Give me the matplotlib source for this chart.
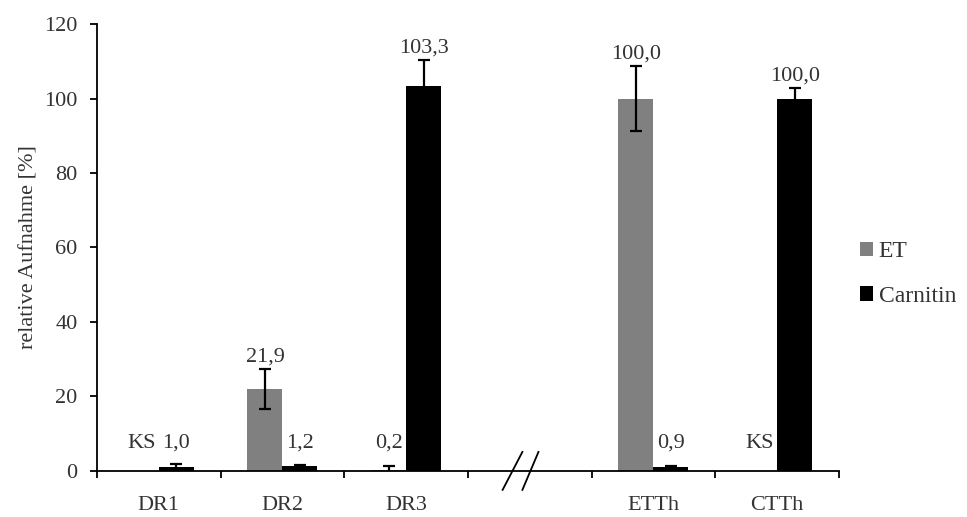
import numpy as np
import matplotlib
matplotlib.use('Agg')
import matplotlib.pyplot as plt
import matplotlib.transforms as mtransforms

plt.rcParams['font.family'] = ['Liberation Serif', 'DejaVu Serif']

# Daten
categories = ['DR1', 'DR2', 'DR3', 'ETTh', 'CTTh']
et_vals = [0.0, 21.9, 0.2, 100.0, 0.0]
et_err = [0.0, 5.4, 1.0, 8.7, 0.0]
et_labels = ['KS', '21,9', '0,2', '100,0', 'KS']
car_vals = [1.0, 1.2, 103.3, 0.9, 100.0]
car_err = [0.8, 0.4, 7.1, 0.35, 2.8]
car_labels = ['1,0', '1,2', '103,3', '0,9', '100,0']
yticks = [0, 20, 40, 60, 80, 100, 120]

txt_color = '#333333'
fs = 16
pos = np.array([0, 1, 2, 4, 5])  # Lücke bei 3 (Achsenbruch)
w = 0.283

fig = plt.figure(figsize=(9.67, 5.17), dpi=100)
ax = fig.add_axes([0.1003, 0.0896, 0.7673, 0.8634])

ek = dict(ecolor='black', elinewidth=1.6, capsize=4.3, capthick=1.6)
has_et = np.array(et_vals) > 0
ax.bar(pos - w / 2, et_vals, w, color='#808080', label='ET', zorder=2)
ax.errorbar((pos - w / 2)[has_et], np.array(et_vals)[has_et],
            yerr=np.array(et_err)[has_et], fmt='none', zorder=3, **ek)
ax.bar(pos + w / 2, car_vals, w, color='black', label='Carnitin', zorder=2)
ax.errorbar(pos + w / 2, car_vals, yerr=car_err, fmt='none', zorder=3, **ek)

# Beschriftungen
for x, v, e, lab in zip(pos - w / 2, et_vals, et_err, et_labels):
    ax.annotate(lab, (x, max(v + e, 4)), xytext=(0, 2), textcoords='offset points',
                ha='center', va='bottom', fontsize=fs, color=txt_color)
for x, v, e, lab in zip(pos + w / 2, car_vals, car_err, car_labels):
    ax.annotate(lab, (x, max(v + e, 4)), xytext=(0, 2), textcoords='offset points',
                ha='center', va='bottom', fontsize=fs, color=txt_color)

ax.set_xlim(-0.5, 5.5)
ax.set_ylim(0, 120)
ax.set_yticks(yticks)
ax.set_yticklabels([str(t) for t in yticks], fontsize=fs, color=txt_color)
ax.set_xticks(pos)
ax.set_xticklabels(categories, fontsize=fs, color=txt_color)
ax.set_xticks(np.arange(-0.5, 5.6, 1.0), minor=True)
ax.tick_params(axis='x', which='major', length=0, pad=18)
ax.tick_params(axis='x', which='minor', length=5, width=1.3, direction='out')
ax.tick_params(axis='y', length=5, width=1.3, direction='out', pad=9)
ax.set_ylabel('relative Aufnahme [%]', fontsize=fs, color=txt_color, labelpad=4)

for s in ['top', 'right']:
    ax.spines[s].set_visible(False)
for s in ['left', 'bottom']:
    ax.spines[s].set_linewidth(1.3)

# Achsenbruch //
tr = mtransforms.blended_transform_factory(ax.transData, ax.transAxes)
ax.plot([2.78, 2.94], [-0.043, 0.042], color='black', lw=1.3, transform=tr, clip_on=False)
ax.plot([2.94, 3.07], [-0.043, 0.042], color='black', lw=1.3, transform=tr, clip_on=False)

leg = fig.legend(loc='center left', bbox_to_anchor=(0.889, 0.47), frameon=False,
                 fontsize=17, handlelength=0.55, handleheight=0.55, handletextpad=0.25,
                 labelspacing=1.0, borderaxespad=0, borderpad=0)
for t in leg.get_texts():
    t.set_color(txt_color)

plt.savefig('out.png', dpi=100)
